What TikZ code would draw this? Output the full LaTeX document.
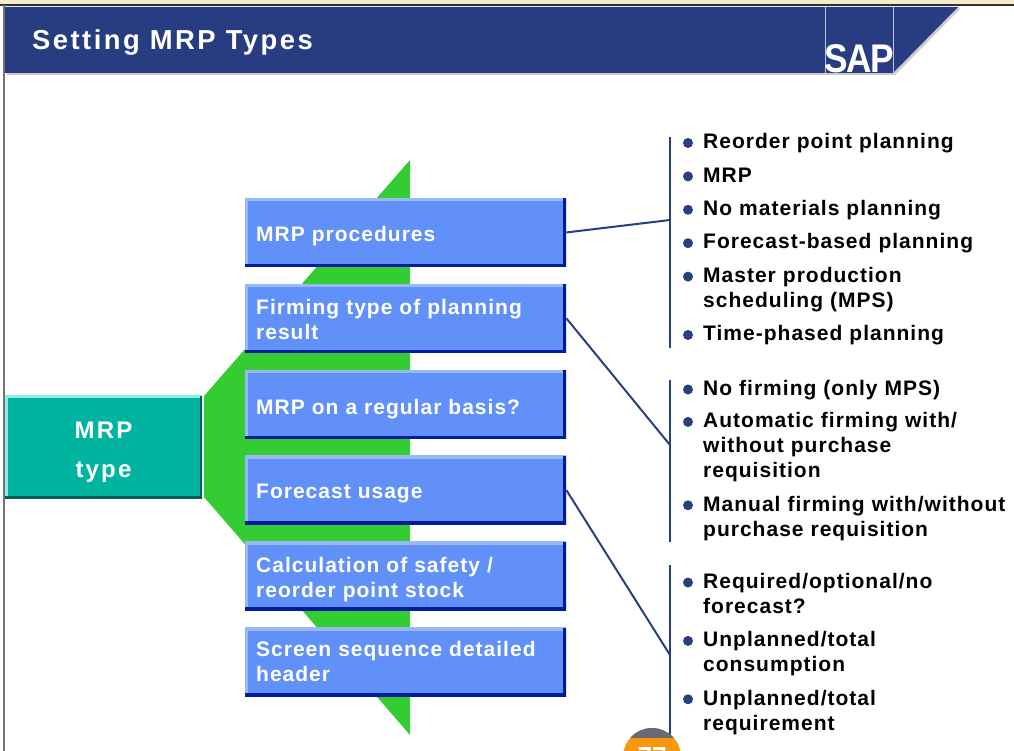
\documentclass[tikz,border=0pt]{standalone}
\usepackage{fontspec}
\usepackage{xcolor}
\usetikzlibrary{positioning}
\setmainfont{Liberation Sans}
\newfontfamily\slidefont[LetterSpace=4.8]{Liberation Sans}
\newfontfamily\headfont[LetterSpace=9]{Liberation Sans}
\newfontfamily\logofont[FakeStretch=0.88,LetterSpace=-4]{Liberation Sans}
\definecolor{BannerBlue}{HTML}{283C82}
\definecolor{BoxBlue}{HTML}{6090F8}
\definecolor{BoxLight}{HTML}{98B8F0}
\definecolor{BoxDark}{HTML}{001C9C}
\definecolor{TealFill}{HTML}{00B4A0}
\definecolor{TealLight}{HTML}{90ECE4}
\definecolor{TealDark}{HTML}{045E58}
\definecolor{GreenFan}{HTML}{33CC33}
\definecolor{BulletBlue}{HTML}{2A3F80}
\definecolor{PageBeige}{HTML}{F4EBCF}
\definecolor{BadgeOrange}{HTML}{F7980F}
\definecolor{BadgeGrey}{HTML}{6A6A72}

\begin{document}
\begin{tikzpicture}[
    x=1pt, y=-1pt,
    node distance=17pt,
    mrpbox/.style={fill=BoxBlue, minimum width=321pt, minimum height=68.5pt, inner sep=0pt, inner xsep=11pt, text width=299pt, align=left, text=white, font=\slidefont\fontsize{21}{25}\selectfont\bfseries,
        path picture={
            \draw[BoxLight, line width=6pt] (path picture bounding box.south west) |- (path picture bounding box.north east);
            \draw[BoxDark, line width=6pt] (path picture bounding box.south west) -| (path picture bounding box.north east);
        }},
    textdrop/.style={execute at begin node={\rule{0pt}{#1}}},
    typebox/.style={fill=TealFill, minimum height=103pt, inner sep=0pt, text width=197pt, align=center, text=white, font=\headfont\fontsize{24}{39}\selectfont\bfseries,
        path picture={
            \draw[TealLight, line width=5pt] (path picture bounding box.south west) |- (path picture bounding box.north east);
            \draw[TealDark, line width=5pt] (path picture bounding box.south west) -| (path picture bounding box.north east);
        }},
    listitem/.style={anchor=north west, inner sep=0pt, text width=308pt, align=left, text=black, font=\slidefont\fontsize{21}{25}\selectfont\bfseries,
        execute at begin node=\strut, execute at end node=\strut,
        label={[dotmark]north west:{}}},
    dotmark/.style={circle, fill=BulletBlue, minimum size=10pt, inner sep=0pt, xshift=-15pt, yshift=-12pt, anchor=center},
    bracket/.style={draw=BulletBlue, line width=2.4pt},
    link/.style={draw=BulletBlue, line width=2pt}
]
\useasboundingbox (0,0) rectangle (1014,751);

% Page edge
\fill[PageBeige] (0,0) rectangle (1014,4);
\draw[black!80, line width=1.5pt] (0,5) -- (1014,5);
\draw[black!55, line width=1.5pt] (4,5) -- (4,751);

% Title banner
\fill[black!20] (7,75) -- (895,75) -- (960,9) -- (958,7) -- (893,73) -- (7,73) -- cycle;
\fill[BannerBlue] (5,7) -- (958,7) -- (893,73) -- (5,73) -- cycle;
\draw[white!70!BannerBlue, line width=1pt] (825,7) -- (825,73);
\draw[white!70!BannerBlue, line width=1pt] (893,7) -- (893,73);
\node[anchor=west, inner sep=0pt, text=white, font=\headfont\fontsize{27.4}{30}\selectfont\bfseries] (title) at (32,42) {Setting MRP Types};
\node[anchor=south, inner sep=0pt, text=white, font=\logofont\fontsize{40}{40}\selectfont\bfseries] (logo) at (859,73.5) {SAP};

% Green fan behind the boxes
\fill[GreenFan] (410,160) -- (204,396) -- (204,497) -- (410,735) -- cycle;

% Left box
\node[typebox, textdrop=26pt] (T1) at (103.5,447) {MRP\\type};

% Setting boxes (column, top to bottom)
\node[mrpbox, anchor=north west, textdrop=23pt] (P1) at (245,198) {MRP procedures};
\node[mrpbox, below=of P1, textdrop=17pt] (P2) {Firming type of planning\\result};
\node[mrpbox, below=of P2, textdrop=25pt] (P3) {MRP on a regular basis?};
\node[mrpbox, below=of P3, textdrop=21pt] (P4) {Forecast usage};
\node[mrpbox, below=of P4, textdrop=22pt] (P5) {Calculation of safety /\\reorder point stock};
\node[mrpbox, below=of P5] (P6) {Screen sequence detailed\\header};

% First list
\node[listitem] (L1) at (703,131) {Reorder point planning};
\node[listitem, below=8pt of L1] (L2) {MRP};
\node[listitem, below=8pt of L2] (L3) {No materials planning};
\node[listitem, below=8pt of L3] (L4) {Forecast-based planning};
\node[listitem, below=8pt of L4] (L5) {Master production\\scheduling (MPS)};
\node[listitem, below=8pt of L5] (L6) {Time-phased planning};

% Second list
\node[listitem] (M1) at (703,377.5) {No firming (only MPS)};
\node[listitem, below=7pt of M1] (M2) {Automatic firming with/\\without purchase\\requisition};
\node[listitem, below=8pt of M2] (M3) {Manual firming with/without\\purchase requisition};

% Third list
\node[listitem] (N1) at (703,570.5) {Required/optional/no\\forecast?};
\node[listitem, below=8pt of N1] (N2) {Unplanned/total\\consumption};
\node[listitem, below=8pt of N2] (N3) {Unplanned/total\\requirement};

% Brackets
\coordinate (B1t) at (670,137);
\coordinate (B1b) at (670,348);
\coordinate (B1m) at (670,220);
\coordinate (B2t) at (670,380);
\coordinate (B2b) at (670,542);
\coordinate (B2m) at (670,445);
\coordinate (B3t) at (670,565);
\coordinate (B3b) at (670,735);
\coordinate (B3m) at (670,655);
\draw[bracket] (B1t) -- (B1b);
\draw[bracket] (B2t) -- (B2b);
\draw[bracket] (B3t) -- (B3b);

% Links to the lists
\draw[link] (P1.east) -- (B1m);
\draw[link] (P2.east) -- (B2m);
\draw[link] (P4.east) -- (B3m);

% Page badge, cut off by the page edge
\node[circle, fill=BadgeOrange, minimum size=58pt, inner sep=0pt, text=white, font=\bfseries\fontsize{26}{26}\selectfont,
    path picture={\fill[BadgeGrey] (path picture bounding box.north west) rectangle ([yshift=-10pt]path picture bounding box.north east);}] (badge) at (652,757) {77};
\end{tikzpicture}
\end{document}
